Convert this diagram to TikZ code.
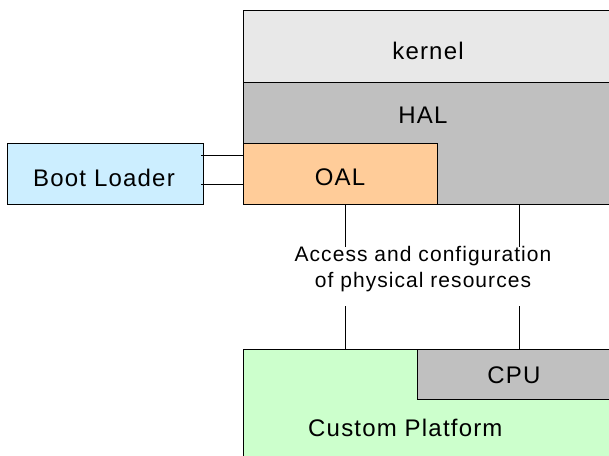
\documentclass[tikz,border=0pt]{standalone}
\usepackage{fontspec}
\setmainfont{Liberation Sans}[LetterSpace=5]
\begin{document}
\begin{tikzpicture}[x=1pt,y=-1pt,
  layer/.style={draw=black, line width=1pt, rectangle, inner sep=0pt, anchor=north west},
  lbl/.style={font=\fontsize{24}{28}\selectfont, inner sep=0pt, anchor=base},
  wire/.style={draw=black, line width=1pt},
  note/.style={font=\fontsize{21}{26}\selectfont, align=center, inner sep=0pt}
]
\useasboundingbox (0,0) rectangle (609,455);
\definecolor{kernelgray}{HTML}{E8E8E8}
\definecolor{halgray}{HTML}{C0C0C0}
\definecolor{oalorange}{HTML}{FFCC99}
\definecolor{bootblue}{HTML}{CCEEFF}
\definecolor{platgreen}{HTML}{CCFFCC}

% software layers
\node[layer, fill=kernelgray, minimum width=370pt, minimum height=72pt] (kernel) at (243,10) {};
\node[layer, fill=halgray, minimum width=370pt, minimum height=122pt] (hal) at (243,82) {};
\node[layer, fill=oalorange, minimum width=194pt, minimum height=61pt] (oal) at (243,143) {};
\node[layer, fill=bootblue, minimum width=196pt, minimum height=61pt] (boot) at (7,143) {};

% hardware
\node[layer, fill=platgreen, minimum width=370pt, minimum height=130pt] (plat) at (243,349) {};
\node[layer, fill=halgray, minimum width=196pt, minimum height=50pt] (cpu) at (417,349) {};

% labels
\node[lbl] (tkernel) at (428,59) {kernel};
\node[lbl] (thal) at (423,123) {HAL};
\node[lbl] (toal) at (340,185) {OAL};
\node[lbl] (tboot) at (104,186) {Boot Loader};
\node[lbl] (tcpu) at (514,383) {CPU};
\node[lbl, anchor=base west] (tplat) at (308,436) {Custom Platform};

% access note between the layers and the platform
\node[note] (access) at (423,269) {Access and configuration\\of physical resources};
\coordinate (a1) at (345,247);
\coordinate (a2) at (519,247);
\coordinate (b1) at (345,306);
\coordinate (b2) at (519,306);

% connectors
\draw[wire] ([xshift=-3pt]boot.east |- 0,155) -- (oal.west |- 0,155);
\draw[wire] ([xshift=-3pt]boot.east |- 0,184) -- (oal.west |- 0,184);
\draw[wire] (oal.south -| a1) -- (a1);
\draw[wire] (hal.south -| a2) -- (a2);
\draw[wire] (b1) -- (plat.north -| b1);
\draw[wire] (b2) -- (cpu.north -| b2);
\end{tikzpicture}
\end{document}
